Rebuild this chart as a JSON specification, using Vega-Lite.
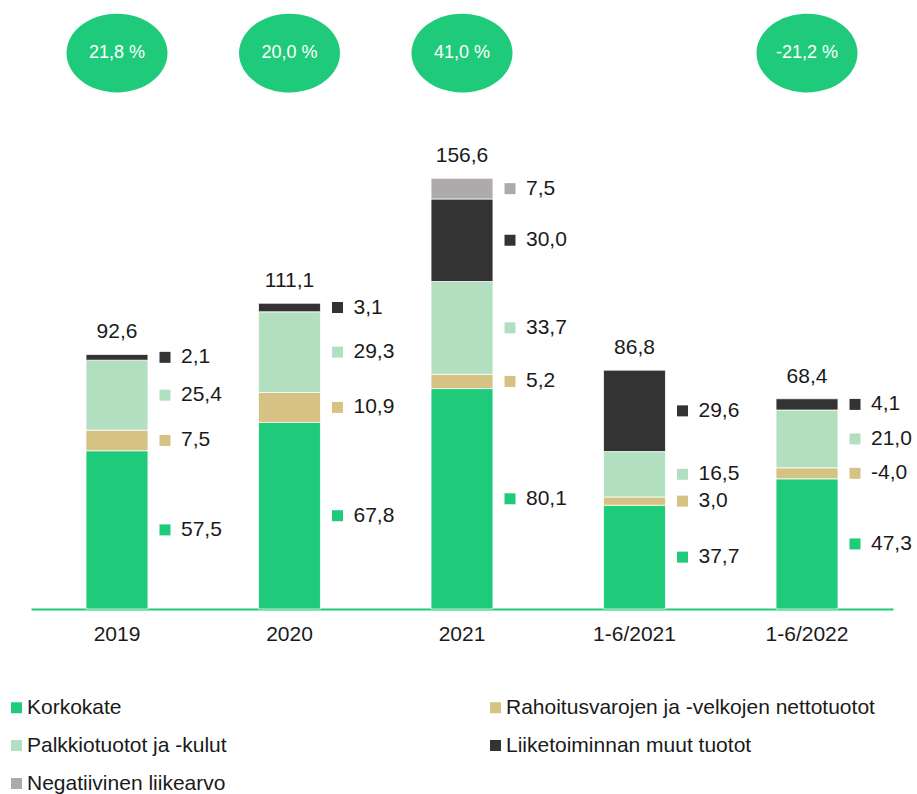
{
  "$schema": "https://vega.github.io/schema/vega-lite/v6.json",
  "width": 862,
  "height": 609,
  "autosize": {"type": "none"},
  "padding": {"left": 31, "top": 0, "right": 24, "bottom": 185},
  "config": {
    "view": {"stroke": null},
    "font": "Liberation Sans",
    "locale": {"number": {"decimal": ",", "thousands": "\u00a0", "grouping": [3], "currency": ["", " €"], "minus": "-"}}
  },
  "datasets": {
    "segments": [
      {"period": "2019", "series": "Korkokate", "ord": 1, "value": 57.5},
      {"period": "2019", "series": "Rahoitusvarojen ja -velkojen nettotuotot", "ord": 2, "value": 7.5},
      {"period": "2019", "series": "Palkkiotuotot ja -kulut", "ord": 3, "value": 25.4},
      {"period": "2019", "series": "Liiketoiminnan muut tuotot", "ord": 4, "value": 2.1},
      {"period": "2020", "series": "Korkokate", "ord": 1, "value": 67.8},
      {"period": "2020", "series": "Rahoitusvarojen ja -velkojen nettotuotot", "ord": 2, "value": 10.9},
      {"period": "2020", "series": "Palkkiotuotot ja -kulut", "ord": 3, "value": 29.3},
      {"period": "2020", "series": "Liiketoiminnan muut tuotot", "ord": 4, "value": 3.1},
      {"period": "2021", "series": "Korkokate", "ord": 1, "value": 80.1},
      {"period": "2021", "series": "Rahoitusvarojen ja -velkojen nettotuotot", "ord": 2, "value": 5.2},
      {"period": "2021", "series": "Palkkiotuotot ja -kulut", "ord": 3, "value": 33.7},
      {"period": "2021", "series": "Liiketoiminnan muut tuotot", "ord": 4, "value": 30.0},
      {"period": "2021", "series": "Negatiivinen liikearvo", "ord": 5, "value": 7.5},
      {"period": "1-6/2021", "series": "Korkokate", "ord": 1, "value": 37.7},
      {"period": "1-6/2021", "series": "Rahoitusvarojen ja -velkojen nettotuotot", "ord": 2, "value": 3.0},
      {"period": "1-6/2021", "series": "Palkkiotuotot ja -kulut", "ord": 3, "value": 16.5},
      {"period": "1-6/2021", "series": "Liiketoiminnan muut tuotot", "ord": 4, "value": 29.6},
      {"period": "1-6/2022", "series": "Korkokate", "ord": 1, "value": 47.3},
      {"period": "1-6/2022", "series": "Rahoitusvarojen ja -velkojen nettotuotot", "ord": 2, "value": -4.0},
      {"period": "1-6/2022", "series": "Palkkiotuotot ja -kulut", "ord": 3, "value": 21.0},
      {"period": "1-6/2022", "series": "Liiketoiminnan muut tuotot", "ord": 4, "value": 4.1}
    ],
    "totals": [
      {"period": "2019", "total": 92.6, "growth": 21.8},
      {"period": "2020", "total": 111.1, "growth": 20.0},
      {"period": "2021", "total": 156.6, "growth": 41.0},
      {"period": "1-6/2021", "total": 86.8, "growth": null},
      {"period": "1-6/2022", "total": 68.4, "growth": -21.2}
    ]
  },
  "data": {"name": "segments"},
  "encoding": {
    "x": {
      "field": "period",
      "type": "nominal",
      "sort": ["2019", "2020", "2021", "1-6/2021", "1-6/2022"],
      "scale": {"paddingInner": 0.641, "paddingOuter": 0.319},
      "axis": {
        "title": null,
        "labelAngle": 0,
        "ticks": false,
        "domainColor": "#1fcb7b",
        "domainWidth": 2,
        "labelFontSize": 21,
        "labelColor": "#1a1a1a",
        "labelPadding": 14,
        "labelFont": "Liberation Sans"
      }
    }
  },
  "layer": [
    {
      "transform": [
        {"calculate": "abs(datum.value)", "as": "h"},
        {"stack": "h", "groupby": ["period"], "sort": [{"field": "ord"}], "as": ["y0", "y1"]}
      ],
      "mark": {"type": "bar", "stroke": "#ffffff", "strokeWidth": 0.75},
      "encoding": {
        "y": {"field": "y1", "type": "quantitative", "scale": {"domain": [0, 221.3], "nice": false, "zero": true}, "axis": null},
        "y2": {"field": "y0"},
        "color": {
          "field": "series",
          "type": "nominal",
          "scale": {
            "domain": ["Korkokate", "Rahoitusvarojen ja -velkojen nettotuotot", "Palkkiotuotot ja -kulut", "Liiketoiminnan muut tuotot", "Negatiivinen liikearvo"],
            "range": ["#1fcb7b", "#d6c282", "#b3dfc1", "#333333", "#aeaaaa"]
          },
          "legend": {
            "title": null,
            "orient": "none",
            "legendX": -25,
            "legendY": 697,
            "padding": 0,
            "direction": "horizontal",
            "columns": 2,
            "columnPadding": 258,
            "rowPadding": 16,
            "symbolType": "square",
            "symbolSize": 121,
            "symbolStrokeWidth": 0,
            "labelOffset": 0,
            "labelFontSize": 21,
            "labelFont": "Liberation Sans",
            "labelColor": "#1a1a1a",
            "labelLimit": 500
          }
        }
      }
    },
    {
      "transform": [
        {"calculate": "abs(datum.value)", "as": "h"},
        {"stack": "h", "groupby": ["period"], "sort": [{"field": "ord"}], "as": ["y0", "y1"]},
        {"calculate": "(datum.y0 + datum.y1) / 2", "as": "mid"}
      ],
      "mark": {"type": "point", "shape": "square", "filled": true, "size": 121, "opacity": 1, "xOffset": 48},
      "encoding": {
        "y": {"field": "mid", "type": "quantitative"},
        "color": {"field": "series", "type": "nominal"}
      }
    },
    {
      "transform": [
        {"calculate": "abs(datum.value)", "as": "h"},
        {"stack": "h", "groupby": ["period"], "sort": [{"field": "ord"}], "as": ["y0", "y1"]},
        {"calculate": "(datum.y0 + datum.y1) / 2", "as": "mid"}
      ],
      "mark": {"type": "text", "align": "left", "baseline": "middle", "dx": 64, "fontSize": 21, "color": "#1a1a1a", "font": "Liberation Sans"},
      "encoding": {
        "y": {"field": "mid", "type": "quantitative"},
        "text": {"field": "value", "type": "quantitative", "format": ".1f"}
      }
    },
    {
      "transform": [
        {"calculate": "abs(datum.value)", "as": "h"},
        {"aggregate": [{"op": "sum", "field": "h", "as": "top"}], "groupby": ["period"]},
        {"lookup": "period", "from": {"data": {"name": "totals"}, "key": "period", "fields": ["total"]}}
      ],
      "mark": {"type": "text", "align": "center", "baseline": "alphabetic", "dy": -16, "fontSize": 21, "color": "#1a1a1a", "font": "Liberation Sans"},
      "encoding": {
        "y": {"field": "top", "type": "quantitative"},
        "text": {"field": "total", "type": "quantitative", "format": ".1f"}
      }
    },
    {
      "data": {"name": "totals"},
      "transform": [{"filter": "isValid(datum.growth)"}],
      "mark": {"type": "point", "shape": "M-1,0A1,0.78,0,1,1,1,0A1,0.78,0,1,1,-1,0Z", "filled": true, "size": 10200, "color": "#1fcb7b", "opacity": 1},
      "encoding": {
        "y": {"datum": 202, "type": "quantitative"}
      }
    },
    {
      "data": {"name": "totals"},
      "transform": [
        {"filter": "isValid(datum.growth)"},
        {"calculate": "replace(replace(format(datum.growth, '.1f'), '.', ','), '\u2212', '-') + ' %'", "as": "glabel"}
      ],
      "mark": {"type": "text", "align": "center", "baseline": "middle", "fontSize": 18, "color": "#ffffff", "font": "Liberation Sans"},
      "encoding": {
        "y": {"datum": 202, "type": "quantitative"},
        "text": {"field": "glabel"}
      }
    }
  ]
}
